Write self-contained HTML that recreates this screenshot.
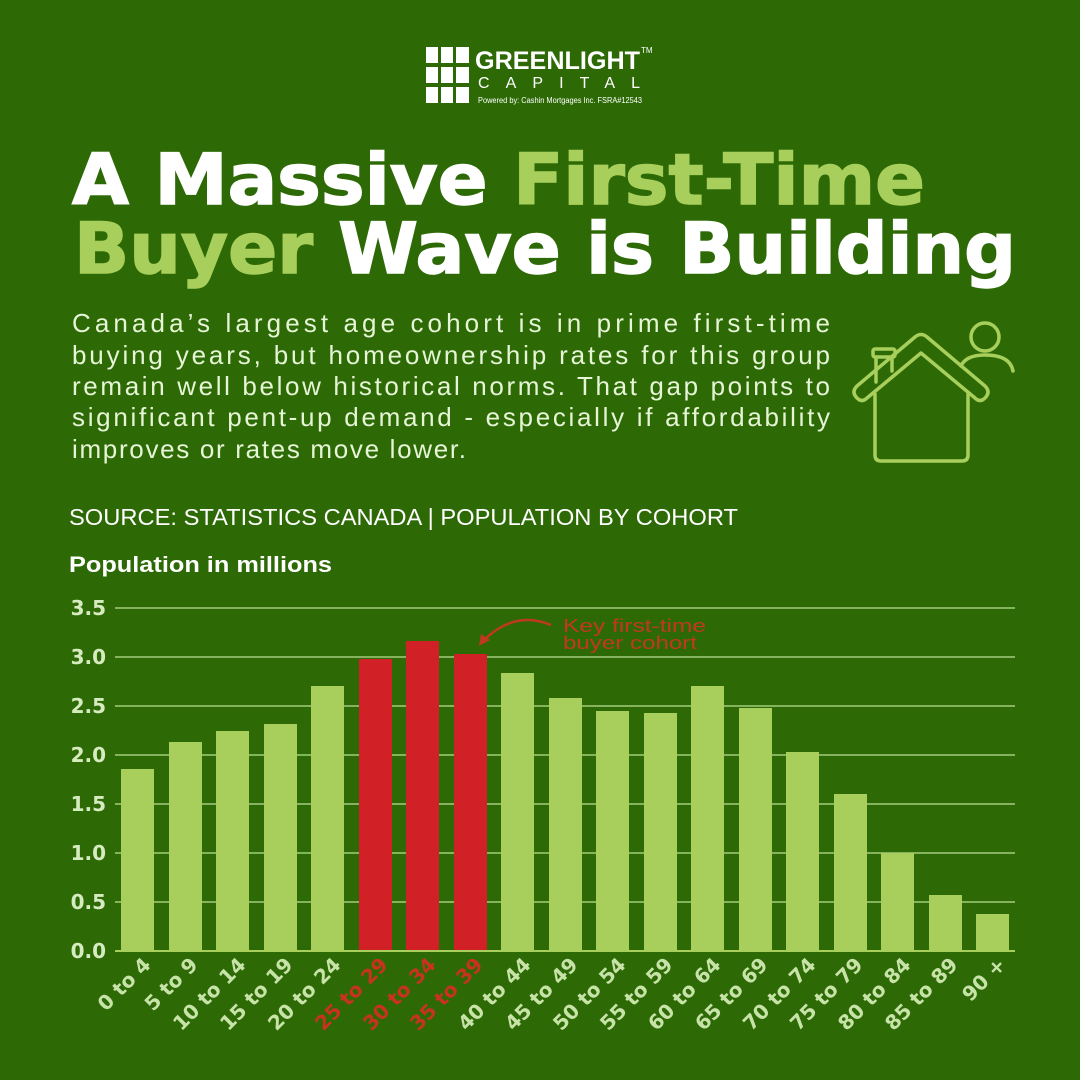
<!DOCTYPE html>
<html><head><meta charset="utf-8"><style>
html,body{margin:0;padding:0;background:#2d6a06;}
svg{display:block}
</style></head><body>
<svg width="1080" height="1080" viewBox="0 0 1080 1080" xmlns="http://www.w3.org/2000/svg">
<rect width="1080" height="1080" fill="#2d6a06"/>
<g fill="#ffffff">
<rect x="426" y="47" width="12" height="16"/><rect x="441" y="47" width="12" height="16"/><rect x="456" y="47" width="13" height="16"/>
<rect x="426" y="67" width="12" height="16"/><rect x="441" y="67" width="12" height="16"/><rect x="456" y="67" width="13" height="16"/>
<rect x="426" y="87" width="12" height="16"/><rect x="441" y="87" width="12" height="16"/><rect x="456" y="87" width="13" height="16"/>
</g>
<text x="475" y="69" font-family="Liberation Sans, sans-serif" font-weight="bold" font-size="25" fill="#fff" textLength="165" lengthAdjust="spacingAndGlyphs">GREENLIGHT</text>
<text x="641" y="53" font-family="Liberation Sans, sans-serif" font-size="8" fill="#fff">TM</text>
<text x="478" y="88" font-family="Liberation Sans, sans-serif" font-size="16" fill="#fff" textLength="162" lengthAdjust="spacing">CAPITAL</text>
<text x="478" y="103" font-family="Liberation Sans, sans-serif" font-size="8" fill="#fff" textLength="164" lengthAdjust="spacingAndGlyphs">Powered by:  Cashin Mortgages Inc.  FSRA#12543</text>
<g font-family="DejaVu Sans, sans-serif" font-weight="bold" font-size="70" stroke-width="1.5">
<text x="72" y="204" textLength="853" lengthAdjust="spacingAndGlyphs"><tspan fill="#fff" stroke="#fff">A Massive </tspan><tspan fill="#a8cf5c" stroke="#a8cf5c">First-Time</tspan></text>
<text x="74" y="273" textLength="942" lengthAdjust="spacingAndGlyphs"><tspan fill="#a8cf5c" stroke="#a8cf5c">Buyer </tspan><tspan fill="#fff" stroke="#fff">Wave is Building</tspan></text>
</g>
<g font-family="Liberation Sans, sans-serif" font-size="26" fill="#e6f5d6">
<text x="72" y="332" textLength="758" lengthAdjust="spacing">Canada’s  largest  age  cohort  is  in  prime  first-time</text>
<text x="72" y="364" textLength="758" lengthAdjust="spacing">buying years, but homeownership rates for this group</text>
<text x="72" y="395" textLength="758" lengthAdjust="spacing">remain well below historical norms. That gap points to</text>
<text x="72" y="426" textLength="758" lengthAdjust="spacing">significant pent-up demand - especially if affordability</text>
<text x="72" y="458" textLength="394" lengthAdjust="spacing">improves or rates move lower.</text>
</g>
<g fill="none" stroke="#a8cf5c" stroke-width="3.5" stroke-linejoin="round" stroke-linecap="round">
<circle cx="985" cy="337" r="14"/>
<path d="M961 366 Q966 355 985 355 Q1010 355 1013 371"/>
<rect x="873" y="349" width="22" height="8" rx="2"/>
<path d="M876 357 V382 M892 357 V371"/>
<path d="M857 398 Q851 392 857 386 L915 337 Q921 332 927 337 L985 386 Q991 392 985 398 Q980 403 975 398 L921 353 L867 398 Q862 403 857 398 Z"/>
<path d="M875 394 V455 Q875 461 881 461 H962 Q968 461 968 455 V394"/>
</g>
<text x="69" y="525" font-family="Liberation Sans, sans-serif" font-size="23" fill="#fff" textLength="669" lengthAdjust="spacingAndGlyphs">SOURCE: STATISTICS CANADA | POPULATION BY COHORT</text>
<text x="69" y="572" font-family="Liberation Sans, sans-serif" font-weight="bold" font-size="22" fill="#fff" textLength="263" lengthAdjust="spacingAndGlyphs">Population in millions</text>
<g stroke="#86b45e" stroke-width="2">
<line x1="115" x2="1015" y1="608" y2="608"/>
<line x1="115" x2="1015" y1="657" y2="657"/>
<line x1="115" x2="1015" y1="706" y2="706"/>
<line x1="115" x2="1015" y1="755" y2="755"/>
<line x1="115" x2="1015" y1="804" y2="804"/>
<line x1="115" x2="1015" y1="853" y2="853"/>
<line x1="115" x2="1015" y1="902" y2="902"/>
</g>
<g font-family="DejaVu Sans, sans-serif" font-weight="bold" font-size="20" fill="#d6ecc0" text-anchor="end">
<text x="106" y="615">3.5</text><text x="106" y="664">3.0</text><text x="106" y="713">2.5</text><text x="106" y="762">2.0</text><text x="106" y="811">1.5</text><text x="106" y="860">1.0</text><text x="106" y="909">0.5</text><text x="106" y="958">0.0</text>
</g>
<g>
<rect x="121" y="769" width="33" height="182" fill="#a8cf5c"/>
<rect x="169" y="742" width="33" height="209" fill="#a8cf5c"/>
<rect x="216" y="731" width="33" height="220" fill="#a8cf5c"/>
<rect x="264" y="724" width="33" height="227" fill="#a8cf5c"/>
<rect x="311" y="686" width="33" height="265" fill="#a8cf5c"/>
<rect x="359" y="659" width="33" height="292" fill="#d22027"/>
<rect x="406" y="641" width="33" height="310" fill="#d22027"/>
<rect x="454" y="654" width="33" height="297" fill="#d22027"/>
<rect x="501" y="673" width="33" height="278" fill="#a8cf5c"/>
<rect x="549" y="698" width="33" height="253" fill="#a8cf5c"/>
<rect x="596" y="711" width="33" height="240" fill="#a8cf5c"/>
<rect x="644" y="713" width="33" height="238" fill="#a8cf5c"/>
<rect x="691" y="686" width="33" height="265" fill="#a8cf5c"/>
<rect x="739" y="708" width="33" height="243" fill="#a8cf5c"/>
<rect x="786" y="752" width="33" height="199" fill="#a8cf5c"/>
<rect x="834" y="794" width="33" height="157" fill="#a8cf5c"/>
<rect x="881" y="853" width="33" height="98" fill="#a8cf5c"/>
<rect x="929" y="895" width="33" height="56" fill="#a8cf5c"/>
<rect x="976" y="914" width="33" height="37" fill="#a8cf5c"/>
</g>
<line x1="115" x2="1015" y1="951" y2="951" stroke="#a8cf5c" stroke-width="2"/>
<path d="M551 625 Q515 610 484 640" fill="none" stroke="#c0391e" stroke-width="2.5"/>
<path d="M479 646 L481 634 L490 640 Z" fill="#c0391e"/>
<g font-family="Liberation Sans, sans-serif" font-size="18" fill="#c0391e">
<text x="563" y="632" textLength="143" lengthAdjust="spacingAndGlyphs">Key first-time</text>
<text x="563" y="649" textLength="134" lengthAdjust="spacingAndGlyphs">buyer cohort</text>
</g>
<g font-family="DejaVu Sans, sans-serif" font-weight="bold" font-size="20" fill="#c8e3a8" text-anchor="end">
<text transform="translate(152,966) rotate(-45)">0 to 4</text>
<text transform="translate(199,966) rotate(-45)">5 to 9</text>
<text transform="translate(247,966) rotate(-45)">10 to 14</text>
<text transform="translate(294,966) rotate(-45)">15 to 19</text>
<text transform="translate(342,966) rotate(-45)">20 to 24</text>
<text transform="translate(389,966) rotate(-45)" fill="#c8321f">25 to 29</text>
<text transform="translate(437,966) rotate(-45)" fill="#c8321f">30 to 34</text>
<text transform="translate(484,966) rotate(-45)" fill="#c8321f">35 to 39</text>
<text transform="translate(532,966) rotate(-45)">40 to 44</text>
<text transform="translate(579,966) rotate(-45)">45 to 49</text>
<text transform="translate(627,966) rotate(-45)">50 to 54</text>
<text transform="translate(674,966) rotate(-45)">55 to 59</text>
<text transform="translate(722,966) rotate(-45)">60 to 64</text>
<text transform="translate(769,966) rotate(-45)">65 to 69</text>
<text transform="translate(817,966) rotate(-45)">70 to 74</text>
<text transform="translate(864,966) rotate(-45)">75 to 79</text>
<text transform="translate(912,966) rotate(-45)">80 to 84</text>
<text transform="translate(959,966) rotate(-45)">85 to 89</text>
<text transform="translate(1007,966) rotate(-45)">90 +</text>
</g>
</svg>
</body></html>
